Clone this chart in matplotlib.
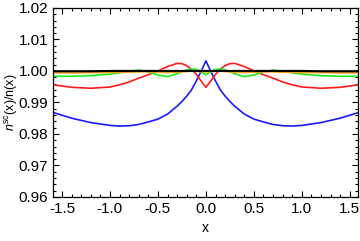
import matplotlib
matplotlib.use('Agg')
import matplotlib.pyplot as plt
import numpy as np
from matplotlib.ticker import MultipleLocator, FormatStrFormatter

plt.rcParams['font.family'] = ['Liberation Sans', 'DejaVu Sans']
plt.rcParams['mathtext.fontset'] = 'custom'
plt.rcParams['mathtext.it'] = 'Liberation Sans:italic'
plt.rcParams['mathtext.rm'] = 'Liberation Sans'

# values
x = [-1.59, -1.4, -1.2, -1.0, -0.9, -0.8, -0.7, -0.6, -0.5, -0.4, -0.3, -0.25, -0.2, -0.15, -0.1, -0.05, 0.0,
     0.05, 0.1, 0.15, 0.2, 0.25, 0.3, 0.4, 0.5, 0.6, 0.7, 0.8, 0.9, 1.0, 1.2, 1.4, 1.59]

blue = [0.9868, 0.9850, 0.9836, 0.9827, 0.9825, 0.9826, 0.9830, 0.9838, 0.9847, 0.9863, 0.9888, 0.9903,
        0.9920, 0.9940, 0.9968, 0.9999, 1.0032,
        0.9999, 0.9968, 0.9940, 0.9920, 0.9903, 0.9888, 0.9863, 0.9847, 0.9838, 0.9830, 0.9826, 0.9825,
        0.9827, 0.9836, 0.9850, 0.9868]

red = [0.9956, 0.9948, 0.9945, 0.9949, 0.9956, 0.9965, 0.9977, 0.9988, 1.0000, 1.0014, 1.0024, 1.0023,
       1.0017, 1.0005, 0.9989, 0.9968, 0.9948,
       0.9968, 0.9989, 1.0005, 1.0017, 1.0023, 1.0024, 1.0014, 1.0000, 0.9988, 0.9977, 0.9965, 0.9956,
       0.9949, 0.9945, 0.9948, 0.9956]

green = [0.9983, 0.9983, 0.9985, 0.9990, 0.9994, 0.9999, 1.0003, 0.9997, 0.9987, 0.9982, 0.9991, 0.9998,
         1.0003, 1.0006, 1.0005, 0.9997, 0.9988,
         0.9997, 1.0005, 1.0006, 1.0003, 0.9998, 0.9991, 0.9982, 0.9987, 0.9997, 1.0003, 0.9999, 0.9994,
         0.9990, 0.9985, 0.9983, 0.9983]

orange = [0.9994, 0.9994, 0.9995, 0.9995, 0.9996, 0.9996, 0.9997, 0.9997, 0.9996, 0.9995, 0.9996, 0.9997,
          0.9998, 0.9999, 0.9999, 0.9998, 0.9997,
          0.9998, 0.9999, 0.9999, 0.9998, 0.9997, 0.9996, 0.9995, 0.9996, 0.9997, 0.9997, 0.9996, 0.9996,
          0.9995, 0.9995, 0.9994, 0.9994]

gray = [1.0001] * len(x)
black = [0.9999, 0.9999, 0.9999, 1.0000, 1.0000, 1.0000, 1.0000, 1.0000, 1.0000, 1.0000, 1.0000, 1.0000,
         1.0000, 1.0000, 1.0000, 1.0000, 1.0000,
         1.0000, 1.0000, 1.0000, 1.0000, 1.0000, 1.0000, 1.0000, 1.0000, 1.0000, 1.0000, 1.0000, 1.0000,
         1.0000, 0.9999, 0.9999, 0.9999]

fig = plt.figure(figsize=(3.6, 2.41), dpi=100)
ax = fig.add_axes([0.147, 0.183, 0.847, 0.784])

ax.plot(x, blue, color='#1a1aff', lw=1.2)
ax.plot(x, red, color='#ff1a1a', lw=1.2)
ax.plot(x, green, color='#1aee1a', lw=1.2)
ax.plot(x, orange, color='#ff9a1a', lw=1.2)
ax.plot(x, gray, color='#999999', lw=1.2)
ax.plot(x, black, color='black', lw=1.5)

ax.set_xlim(-1.594, 1.583)
ax.set_ylim(0.96, 1.02)
ax.xaxis.set_major_locator(MultipleLocator(0.5))
ax.xaxis.set_minor_locator(MultipleLocator(0.1))
ax.yaxis.set_major_locator(MultipleLocator(0.01))
ax.yaxis.set_minor_locator(MultipleLocator(0.002))
ax.xaxis.set_major_formatter(FormatStrFormatter('%.1f'))
ax.yaxis.set_major_formatter(FormatStrFormatter('%.2f'))
ax.tick_params(which='both', direction='in', top=True, right=True, labelsize=11, width=0.8)
ax.tick_params(which='major', length=4)
ax.tick_params(which='minor', length=2.2)
for s in ax.spines.values():
    s.set_linewidth(0.9)

ax.set_xlabel('x', fontsize=10, labelpad=4)
ax.set_ylabel(r'$n^{\mathrm{sc}}$(x)/n(x)', fontsize=9)
ax.yaxis.set_label_coords(-0.108, 0.5)

fig.savefig('out.png', dpi=100)
